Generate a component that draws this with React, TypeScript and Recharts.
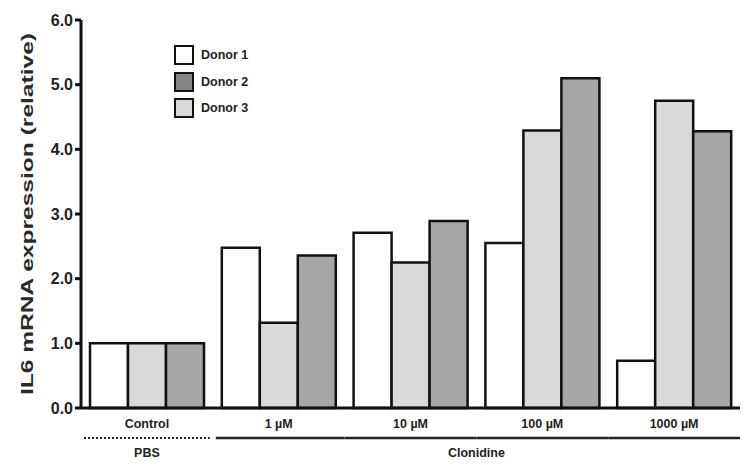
import React from "react";
import { BarChart, Bar, XAxis, YAxis } from "recharts";

const categories = ["Control", "1 µM", "10 µM", "100 µM", "1000 µM"];
const donor1 = [1.0, 2.48, 2.71, 2.55, 0.73];
const donor2 = [1.0, 2.36, 2.89, 5.1, 4.28];
const donor3 = [1.0, 1.32, 2.25, 4.29, 4.75];
const yTicks = [0, 1, 2, 3, 4, 5, 6];

const data = categories.map((name, i) => ({
  name,
  donor1: donor1[i],
  donor2: donor2[i],
  donor3: donor3[i],
}));

const FONT = "'Liberation Sans', Arial, sans-serif";

const legendItems = [
  { label: "Donor 1", fill: "#ffffff" },
  { label: "Donor 2", fill: "#858585" },
  { label: "Donor 3", fill: "#d9d9d9" },
];

function LegendBox() {
  return (
    <div
      style={{ position: "absolute", left: 174, top: 42, fontFamily: FONT }}
    >
      {legendItems.map((it) => (
        <div
          key={it.label}
          style={{ display: "flex", alignItems: "center", height: 26.5 }}
        >
          <div
            style={{
              width: 16,
              height: 16,
              background: it.fill,
              border: "2px solid #111",
              marginRight: 7,
            }}
          />
          <span style={{ fontSize: 12.5, fontWeight: 700, color: "#222" }}>
            {it.label}
          </span>
        </div>
      ))}
    </div>
  );
}

function YLabel() {
  return (
    <text
      x={33}
      y={214}
      transform="rotate(-90, 33, 214)"
      textAnchor="middle"
      fontFamily={FONT}
      fontWeight={700}
      fontSize={16.5}
      fill="#2a2a2a"
      textLength={362}
      lengthAdjust="spacingAndGlyphs"
    >
      IL6 mRNA expression (relative)
    </text>
  );
}

function CategoryTick(props: any) {
  const { x, y, payload, index } = props;
  const band = (740 - 81) / categories.length;
  return (
    <g fontFamily={FONT} fontWeight={700} fill="#222">
      <text x={x} y={y + 12} textAnchor="middle" fontSize={12.5}>
        {payload.value}
      </text>
      {index === 0 && (
        <g>
          <line
            x1={x - band / 2 + 3}
            x2={x + band / 2 - 3}
            y1={y + 22}
            y2={y + 22}
            stroke="#222"
            strokeWidth={2}
            strokeDasharray="2 2"
          />
          <text x={x} y={y + 41} textAnchor="middle" fontSize={12.5}>
            PBS
          </text>
        </g>
      )}
      {index > 0 && (
        <line
          x1={index === 1 ? x - band / 2 + 3 : x - band / 2}
          x2={x + band / 2}
          y1={y + 22}
          y2={y + 22}
          stroke="#222"
          strokeWidth={2.5}
        />
      )}
      {index === 2 && (
        <text x={x + band / 2} y={y + 41} textAnchor="middle" fontSize={12.5}>
          Clonidine
        </text>
      )}
    </g>
  );
}

export default function App() {
  return (
    <div
      style={{
        position: "absolute",
        left: 0,
        top: 0,
        width: 749,
        height: 465,
        background: "#fff",
      }}
    >
      <BarChart
        width={749}
        height={465}
        data={data}
        margin={{ top: 20, right: 9, bottom: 0, left: 0 }}
        barCategoryGap={9}
        barGap={0}
      >
        <XAxis
          dataKey="name"
          axisLine={{ stroke: "#111", strokeWidth: 3 }}
          tickLine={false}
          height={57}
          interval={0}
          tick={<CategoryTick />}
        />
        <YAxis
          width={81}
          domain={[0, 6]}
          ticks={yTicks}
          tickFormatter={(v: number) => v.toFixed(1)}
          axisLine={{ stroke: "#111", strokeWidth: 3 }}
          tickLine={{ stroke: "#111", strokeWidth: 3 }}
          tickSize={6}
          tick={{
            fill: "#222",
            fontSize: 16,
            fontWeight: 700,
            fontFamily: FONT,
          }}
          label={<YLabel />}
        />
        <Bar
          dataKey="donor1"
          name="Donor 1"
          fill="#ffffff"
          stroke="#111"
          strokeWidth={2.5}
          isAnimationActive={false}
        />
        <Bar
          dataKey="donor3"
          name="Donor 3"
          fill="#d9d9d9"
          stroke="#111"
          strokeWidth={2.5}
          isAnimationActive={false}
        />
        <Bar
          dataKey="donor2"
          name="Donor 2"
          fill="#a6a6a6"
          stroke="#111"
          strokeWidth={2.5}
          isAnimationActive={false}
        />
      </BarChart>
      <LegendBox />
    </div>
  );
}
